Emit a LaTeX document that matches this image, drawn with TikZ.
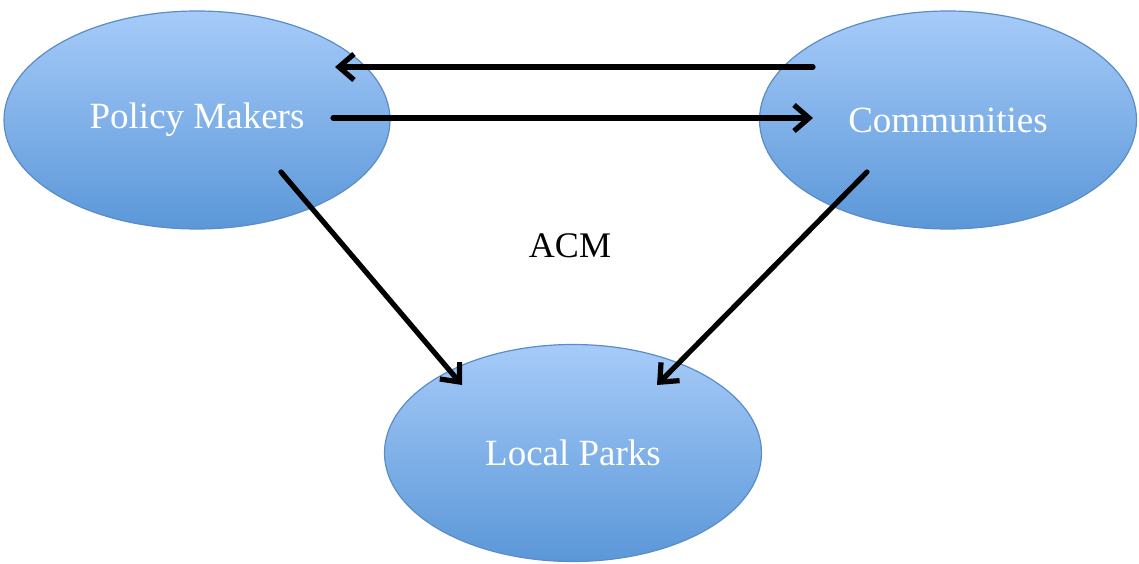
\documentclass[tikz,border=0pt]{standalone}
\usepackage{fontspec}
\setmainfont{Liberation Serif}
\usetikzlibrary{arrows.meta,shapes.geometric}

\definecolor{blobtop}{HTML}{A6CBF9}
\definecolor{blobbot}{HTML}{5B97D8}
\definecolor{blobline}{HTML}{5A8CC8}

\tikzset{
  blob/.style={ellipse, draw=blobline, line width=0.6pt,
    top color=blobtop, bottom color=blobbot, inner sep=0pt,
    text=white, font=\fontsize{18.5}{20}\selectfont},
  link/.style={line width=2.6pt, line cap=round,
    -{Straight Barb[length=7.5pt,width=13pt,line join=miter]}}
}

\begin{document}
\begin{tikzpicture}[x=0.5pt,y=0.5pt]
  \useasboundingbox (0,0) rectangle (1139,563);

  %% actors
  \node[blob, minimum width=193pt, minimum height=109pt] (policy) at (197,443) {Policy Makers};
  \node[blob, minimum width=188.5pt, minimum height=109pt] (comm) at (948,443) {Communities};
  \node[blob, minimum width=188.5pt, minimum height=108.5pt] (parks) at (573,110) {Local Parks};

  %% label in the middle
  \node[font=\fontsize{18}{20}\selectfont] (acm) at (570,317) {ACM};

  %% arrow ends
  \coordinate (commtop) at (813,496);
  \coordinate (policytop) at (335,496);
  \coordinate (policymid) at (333,445);
  \coordinate (commmid) at (813,445);
  \coordinate (policylow) at (281,391);
  \coordinate (parksleft) at (462,178);
  \coordinate (commlow) at (867,391);
  \coordinate (parksright) at (657,178);

  %% links
  \draw[link] (commtop) -- (policytop);
  \draw[link] (policymid) -- (commmid);
  \draw[link] (policylow) -- (parksleft);
  \draw[link] (commlow) -- (parksright);

\end{tikzpicture}
\end{document}
